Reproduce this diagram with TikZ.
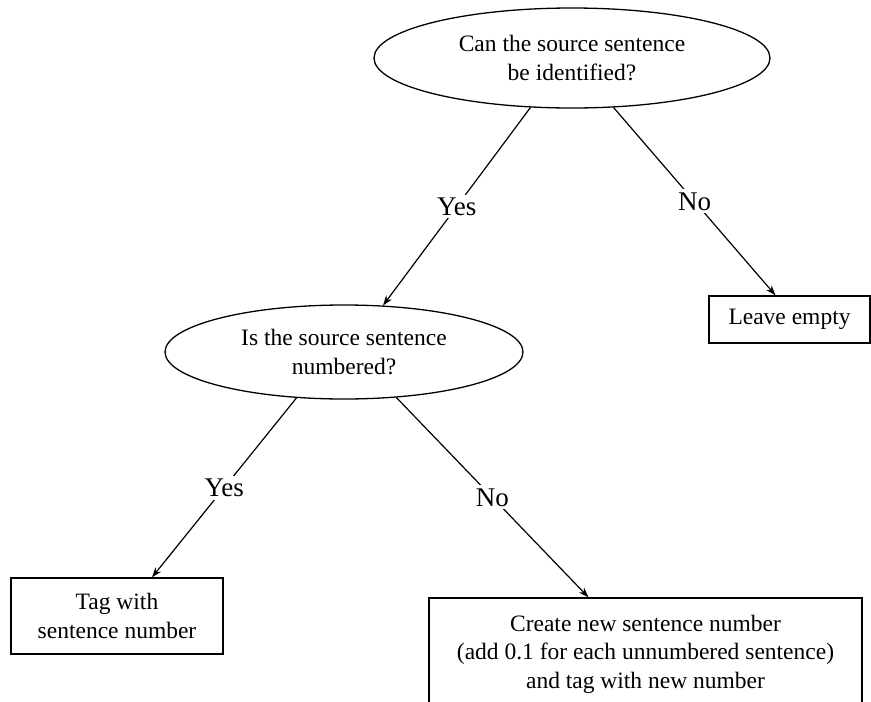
\documentclass[tikz,border=0pt]{standalone}
\usepackage{fontspec}
\setmainfont{Liberation Serif}
\usetikzlibrary{shapes.geometric,arrows.meta,calc}
\begin{document}
\begin{tikzpicture}[x=1pt,y=-1pt,
  q/.style={ellipse,draw,line width=1.3pt,inner sep=0pt,align=center,font=\fontsize{23.5}{28.5}\selectfont},
  box/.style={rectangle,draw,line width=1.3pt,inner sep=0pt,align=center,font=\fontsize{23.5}{28.5}\selectfont},
  conn/.style={line width=1.2pt,-{Stealth[length=10pt,width=7pt,inset=3pt]}},
  lab/.style={fill=white,inner sep=3pt,font=\fontsize{27}{32}\selectfont}]
\useasboundingbox (0,0) rectangle (871,702);
\clip (0,0) rectangle (871,702);
\node[q,minimum width=396pt,minimum height=100pt] (q1) at (572,58) {Can the source sentence\\be identified?};
\node[q,minimum width=358pt,minimum height=94pt] (q2) at (344,352) {Is the source sentence\\numbered?};
\node[box,minimum width=161pt,minimum height=47pt] (leave) at (789.5,319.5) {Leave empty};
\node[box,minimum width=212pt,minimum height=76pt] (tag) at (117,616) {Tag with\\sentence number};
\node[box,minimum width=433pt,minimum height=112pt] (create) at (645.5,654) {Create new sentence number\\(add 0.1 for each unnumbered sentence)\\and tag with new number};
\draw[conn] (q1.230) -- node[lab]{Yes} (q2.50);
\draw[conn] (q1.310) -- node[lab]{No} ($(leave.north)+(-14,0)$);
\draw[conn] (q2.224) -- node[lab]{Yes} ($(tag.north)+(35,0)$);
\draw[conn] (q2.319) -- node[lab]{No} ($(create.north)+(-57,0)$);
\end{tikzpicture}
\end{document}
